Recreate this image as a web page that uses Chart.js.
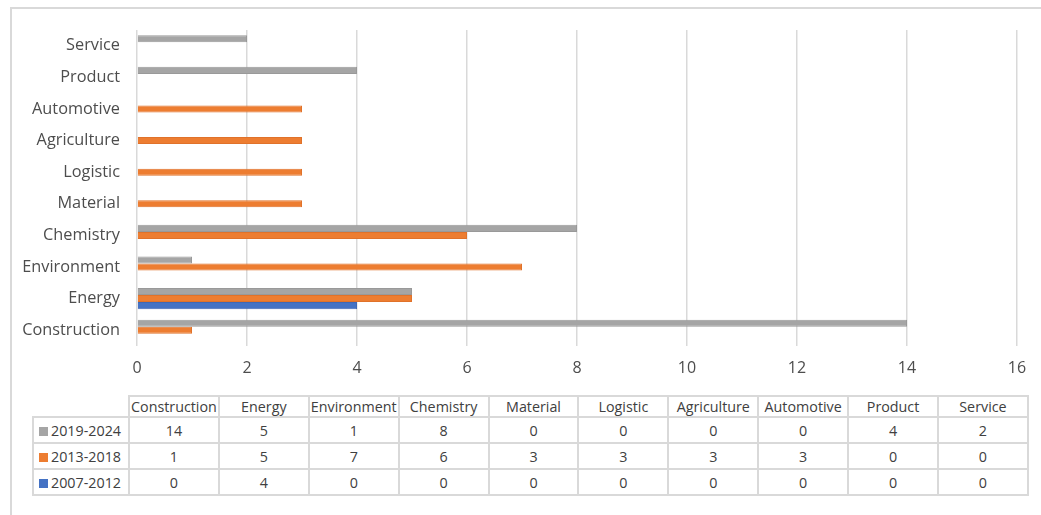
<!DOCTYPE html>
<html>
<head>
<meta charset="utf-8">
<script src="https://cdn.jsdelivr.net/npm/chart.js@4"></script>
<style>
    body { margin: 0; background: #fff; font-family: 'Open Sans', sans-serif; }
    #frame { position: absolute; left: 10px; top: 7px; width: 1100px; height: 600px; border: 2px solid #d9d9d9; box-sizing: border-box; }
    #chartBox { position: absolute; left: 0; top: 0; width: 1041px; height: 385px; }
    #dataTable { position: absolute; left: 32px; top: 395px; border-collapse: collapse; font-size: 14.3px; color: #404040; table-layout: fixed; }
    #dataTable td { border: 2px solid #d9d9d9; text-align: center; padding: 0; height: 24px; white-space: nowrap; overflow: hidden; }
    #dataTable tr.head td { height: 19px; }
    #dataTable td.blank { border: none; }
    #dataTable td.name { text-align: left; padding-left: 5px; }
    .key { display: inline-block; width: 9px; height: 9px; margin-right: 3px; vertical-align: 0px; }
</style>
</head>
<body>
<div id="frame"></div>
<div id="chartBox"><canvas id="barChart"></canvas></div>
<table id="dataTable"></table>
<script>
const categories = ['Construction', 'Energy', 'Environment', 'Chemistry', 'Material', 'Logistic', 'Agriculture', 'Automotive', 'Product', 'Service'];
const seriesNames = ['2019-2024', '2013-2018', '2007-2012'];
const values2019 = [14, 5, 1, 8, 0, 0, 0, 0, 4, 2];
const values2013 = [1, 5, 7, 6, 3, 3, 3, 3, 0, 0];
const values2007 = [0, 4, 0, 0, 0, 0, 0, 0, 0, 0];
const xTicks = [0, 2, 4, 6, 8, 10, 12, 14, 16];

const fillColors = ['#a5a5a5', '#ed7d31', '#4472c4'];
const edgeColors = ['#999999', '#e0722a', '#3f68b5'];
const allValues = [values2019, values2013, values2007];

document.addEventListener('DOMContentLoaded', function() {
    buildChart();
    buildTable();
});

function buildChart() {
    const ctx = document.getElementById('barChart').getContext('2d');

    new Chart(ctx, {
        type: 'bar',
        data: {
            labels: categories,
            datasets: seriesNames.map(function(name, i) {
                return {
                    label: name,
                    data: allValues[i],
                    backgroundColor: fillColors[i],
                    borderColor: edgeColors[i],
                    borderWidth: 1,
                    categoryPercentage: 0.667,
                    barPercentage: 1.0
                };
            })
        },
        options: {
            indexAxis: 'y',
            responsive: true,
            maintainAspectRatio: false,
            animation: false,
            layout: {
                padding: { left: 0, top: 30, right: 24, bottom: 0 }
            },
            plugins: {
                legend: { display: false },
                tooltip: { enabled: false }
            },
            scales: {
                x: {
                    min: xTicks[0],
                    max: xTicks[xTicks.length - 1],
                    afterBuildTicks: function(scale) {
                        scale.ticks = xTicks.map(function(v) { return { value: v }; });
                    },
                    afterFit: function(scale) { scale.height = 39; },
                    ticks: {
                        padding: 13,
                        color: '#4d4d4d',
                        font: { family: 'Open Sans', size: 16 }
                    },
                    grid: {
                        color: '#d9d9d9',
                        lineWidth: 1.5,
                        drawTicks: false
                    },
                    border: { display: false }
                },
                y: {
                    reverse: true,
                    afterFit: function(scale) { scale.width = 137; },
                    ticks: {
                        padding: 17,
                        color: '#4d4d4d',
                        font: { family: 'Open Sans', size: 16.3 }
                    },
                    grid: { display: false, drawTicks: false },
                    border: { display: false }
                }
            }
        }
    });
}

function buildTable() {
    const table = document.getElementById('dataTable');
    let html = '<colgroup><col style="width:96px">';
    categories.forEach(function() { html += '<col style="width:89.9px">'; });
    html += '</colgroup>';

    html += '<tr class="head"><td class="blank"></td>';
    categories.forEach(function(c) { html += '<td>' + c + '</td>'; });
    html += '</tr>';

    seriesNames.forEach(function(name, i) {
        html += '<tr><td class="name"><span class="key" style="background:' + fillColors[i] + '"></span>' + name + '</td>';
        allValues[i].forEach(function(v) { html += '<td>' + v + '</td>'; });
        html += '</tr>';
    });

    table.innerHTML = html;
}
</script>
</body>
</html>
